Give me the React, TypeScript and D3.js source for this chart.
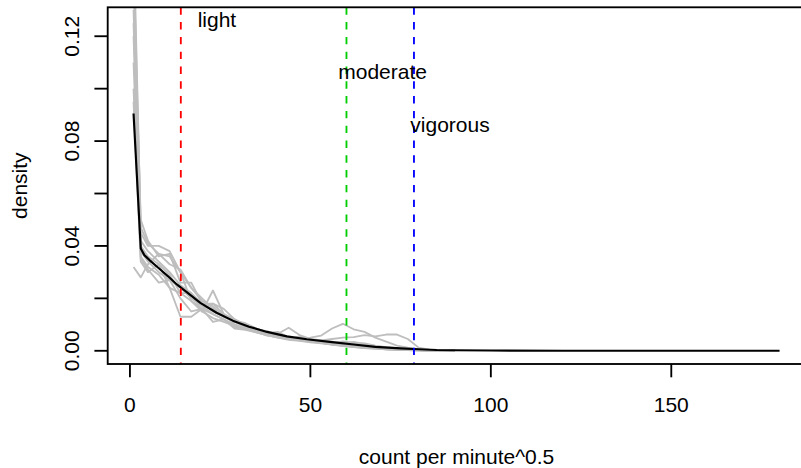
import React from "react";
import * as d3 from "d3";

// ---- data ----
const meanX = [1, 3, 4, 5.5, 8, 10.5, 13, 16, 19.5, 24, 28.5, 33, 38, 43.5, 49, 56, 62, 68, 75, 80, 85, 90, 100, 120, 150, 180];
const meanY = [0.0905, 0.039, 0.0365, 0.0345, 0.0315, 0.0285, 0.0253, 0.0221, 0.0183, 0.0145, 0.0115, 0.0092, 0.0072, 0.0055, 0.0044, 0.0033, 0.0024, 0.0015, 0.0009, 0.0006, 0.0003, 0.0002, 0.0001, 0, 0, 0];

const grayX = [1, 3, 5, 8, 11, 14, 17, 20, 23, 26, 29, 32, 35, 38, 41, 44, 47, 50, 53, 56, 59, 62, 65, 68, 71, 74, 77, 80, 83, 86, 90];
const gray1 = [0.16, 0.045, 0.040, 0.040, 0.038, 0.030, 0.024, 0.019, 0.017, 0.013, 0.011, 0.0095, 0.008, 0.0068, 0.0058, 0.005, 0.0043, 0.0036, 0.003, 0.0025, 0.002, 0.0016, 0.0012, 0.0009, 0.0007, 0.0005, 0.0004, 0.0003, 0.0002, 0.0001, 0];
const gray2 = [0.14, 0.05, 0.042, 0.036, 0.037, 0.026, 0.026, 0.018, 0.018, 0.016, 0.012, 0.0095, 0.0082, 0.0075, 0.0062, 0.0052, 0.0045, 0.004, 0.0035, 0.003, 0.0026, 0.002, 0.0015, 0.0011, 0.0008, 0.0005, 0.0003, 0.0002, 0.0001, 0, 0];
const gray3 = [0.032, 0.028, 0.033, 0.037, 0.036, 0.030, 0.019, 0.016, 0.018, 0.014, 0.010, 0.0085, 0.0075, 0.0065, 0.006, 0.0048, 0.004, 0.0035, 0.003, 0.0025, 0.002, 0.0015, 0.001, 0.0008, 0.0006, 0.0004, 0.0003, 0.0002, 0.0001, 0, 0];
const gray4 = [0.13, 0.036, 0.032, 0.029, 0.024, 0.013, 0.013, 0.016, 0.014, 0.012, 0.009, 0.0085, 0.007, 0.006, 0.005, 0.0045, 0.004, 0.0035, 0.003, 0.0024, 0.0018, 0.0014, 0.001, 0.0008, 0.0006, 0.0004, 0.0003, 0.0002, 0.0001, 0, 0];
const gray5 = [0.12, 0.04, 0.036, 0.033, 0.029, 0.022, 0.019, 0.015, 0.023, 0.014, 0.012, 0.010, 0.0085, 0.007, 0.0065, 0.0088, 0.006, 0.0045, 0.004, 0.0035, 0.003, 0.0025, 0.002, 0.0015, 0.001, 0.0008, 0.0005, 0.0003, 0.0002, 0.0001, 0];
const gray6 = [0.11, 0.038, 0.034, 0.030, 0.027, 0.024, 0.020, 0.017, 0.014, 0.012, 0.010, 0.0085, 0.0072, 0.0062, 0.0055, 0.005, 0.0048, 0.005, 0.0058, 0.0085, 0.0103, 0.0082, 0.0072, 0.005, 0.0035, 0.002, 0.0012, 0.0006, 0.0003, 0.0001, 0];
const gray7 = [0.125, 0.042, 0.038, 0.034, 0.030, 0.025, 0.022, 0.018, 0.015, 0.013, 0.011, 0.009, 0.0078, 0.0068, 0.0072, 0.005, 0.0045, 0.0042, 0.004, 0.0045, 0.005, 0.0052, 0.006, 0.0055, 0.0062, 0.0062, 0.0045, 0.0012, 0.0004, 0.0001, 0];
const gray8 = [0.1, 0.035, 0.031, 0.026, 0.027, 0.020, 0.015, 0.016, 0.011, 0.012, 0.0085, 0.008, 0.007, 0.006, 0.005, 0.0042, 0.0038, 0.0032, 0.0028, 0.0024, 0.002, 0.0016, 0.0012, 0.0009, 0.0006, 0.0004, 0.0003, 0.0002, 0.0001, 0, 0];
const gray9 = [0.15, 0.047, 0.041, 0.037, 0.033, 0.031, 0.024, 0.020, 0.016, 0.0135, 0.0115, 0.0105, 0.0085, 0.007, 0.006, 0.0052, 0.0046, 0.004, 0.0034, 0.0028, 0.0036, 0.003, 0.0028, 0.002, 0.0014, 0.001, 0.0006, 0.0003, 0.0002, 0.0001, 0];
const gray10 = [0.095, 0.034, 0.030, 0.033, 0.024, 0.022, 0.022, 0.015, 0.0125, 0.011, 0.0095, 0.0082, 0.0072, 0.0058, 0.0052, 0.0046, 0.0055, 0.004, 0.0036, 0.0032, 0.0028, 0.0034, 0.0025, 0.0018, 0.0012, 0.0008, 0.0005, 0.0003, 0.0001, 0, 0];
const graySeries = [gray1, gray2, gray3, gray4, gray5, gray6, gray7, gray8, gray9, gray10];

const cutNames = ["light", "moderate", "vigorous"];
const cutValues = [14.1, 60, 78.7];
const cutColors = ["#FF0000", "#00CD00", "#0000FF"];
const labelY = [0.126, 0.106, 0.086];

const xTicks = [0, 50, 100, 150];
const yTicks = [0, 0.02, 0.04, 0.06, 0.08, 0.1, 0.12];
const yLabelTicks = [0, 0.04, 0.08, 0.12];

const xTitle = "count per minute^0.5";
const yTitle = "density";

export default function App() {
  const W = 801, H = 468;
  const L = 107.7, R = 805.4, T = 7.3, B = 364;
  const x = d3.scaleLinear().domain([-6.16, 187.16]).range([L, R]);
  const y = d3.scaleLinear().domain([-0.00504, 0.13104]).range([B, T]);
  const line = d3.line<[number, number]>().x(d => x(d[0])).y(d => y(d[1]));
  const font = "'Liberation Sans', Arial, Helvetica, sans-serif";
  const fs = 21;
  const lw = 1.85;
  const tick = 13.3;

  return (
    <svg width={W} height={H} style={{ position: "absolute", left: 0, top: 0, background: "#fff" }} fontFamily={font} fontSize={fs}>
      <defs>
        <clipPath id="plotclip">
          <rect x={L} y={T} width={R - L} height={B - T} />
        </clipPath>
      </defs>
      <rect x={0} y={0} width={W} height={H} fill="#fff" />
      <g clipPath="url(#plotclip)">
        {graySeries.map((s, i) => (
          <path key={i} d={line(grayX.map((gx, j) => [gx, s[j]] as [number, number])) || ""} fill="none" stroke="#BEBEBE" strokeWidth={lw} strokeLinejoin="round" />
        ))}
        <path d={line(meanX.map((mx, j) => [mx, meanY[j]] as [number, number])) || ""} fill="none" stroke="#000" strokeWidth={lw + 0.3} strokeLinejoin="round" />
        {cutValues.map((c, i) => (
          <line key={i} x1={x(c)} x2={x(c)} y1={T} y2={B} stroke={cutColors[i]} strokeWidth={lw} strokeDasharray="7.4,7.4" />
        ))}
      </g>
      {cutNames.map((n, i) => (
        <text key={n} x={x(cutValues[i] + 10)} y={y(labelY[i]) + 6.5} textAnchor="middle" fill="#000">{n}</text>
      ))}
      {/* box: left, top, bottom (right edge lies outside the window) */}
      <rect x={L} y={T} width={R - L} height={B - T} fill="none" stroke="#000" strokeWidth={lw} />
      {xTicks.map(t => (
        <g key={t}>
          <line x1={x(t)} x2={x(t)} y1={B} y2={B + tick} stroke="#000" strokeWidth={lw} />
          <text x={x(t)} y={412} textAnchor="middle">{String(t)}</text>
        </g>
      ))}
      {yTicks.map(t => (
        <line key={t} x1={L - tick} x2={L} y1={y(t)} y2={y(t)} stroke="#000" strokeWidth={lw} />
      ))}
      {yLabelTicks.map(t => (
        <text key={t} transform={`translate(79,${y(t)}) rotate(-90)`} textAnchor="middle">{t.toFixed(2)}</text>
      ))}
      <text x={(L + R) / 2} y={464} textAnchor="middle">{xTitle}</text>
      <text transform={`translate(27,${(T + B) / 2}) rotate(-90)`} textAnchor="middle">{yTitle}</text>
    </svg>
  );
}
